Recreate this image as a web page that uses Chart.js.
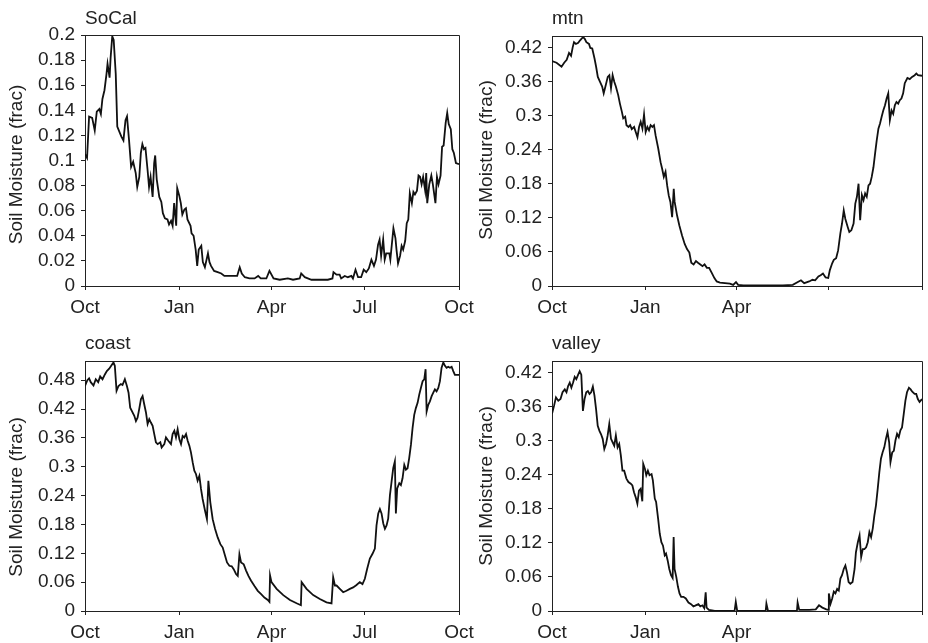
<!DOCTYPE html>
<html><head><meta charset="utf-8">
<script src="https://cdn.jsdelivr.net/npm/chart.js@4"></script>
<style>
html,body{margin:0;padding:0;background:#fff;}
#wrap{position:relative;width:928px;height:643px;overflow:hidden;background:#fff;}
canvas{position:absolute;left:0;top:0;}
</style></head><body>
<div id="wrap">
<canvas id="c1" width="928" height="643"></canvas>
<canvas id="c2" width="928" height="643"></canvas>
<canvas id="c3" width="928" height="643"></canvas>
<canvas id="c4" width="928" height="643"></canvas>
</div>
<script>
// ---- tick labels ----
const xTickDays = [0, 92, 182, 273, 365];
const xTickLabelsFull = ['Oct', 'Jan', 'Apr', 'Jul', 'Oct'];
const xTickLabelsPart = ['Oct', 'Jan', 'Apr', '', ''];
const yAxisTitle = 'Soil Moisture (frac)';
const socalYTicks = [0, 0.02, 0.04, 0.06, 0.08, 0.1, 0.12, 0.14, 0.16, 0.18, 0.2];
const mtnYTicks = [0, 0.06, 0.12, 0.18, 0.24, 0.3, 0.36, 0.42];
const coastYTicks = [0, 0.06, 0.12, 0.18, 0.24, 0.3, 0.36, 0.42, 0.48];
const valleyYTicks = [0, 0.06, 0.12, 0.18, 0.24, 0.3, 0.36, 0.42];

// ---- series (day since Oct 1, soil moisture fraction) ----
const socalDays = [0,2,4,7,9.5,11.5,14,15.5,17,19,21,22,24,25,26.6,28,30,31.5,34,35.5,37.5,39.5,41,43,45,47,49.5,51,53,54.5,56,57.5,59,61,62.5,64,66,67.5,68.5,70,72.5,74.5,76,78,80.5,82,84,85.5,87,89,90,92,93.5,95,97,98.5,100,103,104,106,108,109.5,111,113.5,115,117,120,121.5,123,126,129.5,133,136,139,142,146,148.5,151,153,156,160.5,165.5,169,171.5,177,180,184,190,198,203,209.5,211,214.5,221,229,237,241.5,242.5,245.5,248.5,250,253.5,256.5,260,261.5,264,266.5,269.5,272,274.5,277,279.5,282,284,286,287.5,289,291,292.5,294,297,298,301,303,304,305.5,307.5,309,310.5,312.5,314,315.5,317,319,320.5,322,324,325.5,327,328.5,330,332,333,334,336,338,339.5,342,343.5,345,347,348.5,350,352,353.5,355,357,358.5,360,362,365];
const socalVals = [0.105,0.102,0.135,0.134,0.124,0.139,0.141,0.137,0.149,0.156,0.169,0.177,0.166,0.182,0.199,0.196,0.169,0.127,0.122,0.119,0.116,0.132,0.135,0.116,0.095,0.099,0.090,0.079,0.087,0.106,0.113,0.109,0.110,0.093,0.079,0.087,0.071,0.098,0.104,0.085,0.071,0.067,0.058,0.054,0.053,0.049,0.052,0.048,0.066,0.048,0.078,0.072,0.066,0.057,0.061,0.062,0.053,0.048,0.042,0.040,0.029,0.016,0.029,0.032,0.019,0.015,0.026,0.019,0.016,0.012,0.011,0.010,0.008,0.008,0.008,0.008,0.008,0.015,0.010,0.007,0.006,0.006,0.008,0.006,0.006,0.012,0.006,0.005,0.006,0.005,0.006,0.010,0.007,0.005,0.005,0.005,0.006,0.011,0.009,0.009,0.006,0.008,0.007,0.008,0.006,0.013,0.007,0.007,0.013,0.011,0.014,0.021,0.016,0.021,0.033,0.037,0.024,0.037,0.021,0.026,0.026,0.021,0.046,0.038,0.029,0.018,0.024,0.032,0.029,0.036,0.050,0.053,0.074,0.066,0.075,0.073,0.076,0.088,0.087,0.081,0.087,0.076,0.090,0.066,0.081,0.088,0.081,0.066,0.087,0.081,0.088,0.111,0.112,0.130,0.138,0.129,0.125,0.109,0.106,0.098,0.097];

const mtnDays = [0,4.5,9.4,12,14.5,16.8,18.8,20.4,21.7,23.6,25.9,27.5,29,30.7,32.3,33.9,36.5,37.8,39.7,42,43.6,45.2,47.5,49.5,51,52.7,55,56.6,58.2,59.8,61.5,63,65.3,67,69,70.3,72.2,73.5,75.5,77.1,78.7,81,82.6,84.3,85.9,87.5,89.2,90.8,92.4,94.1,95.7,97.3,99,100.6,102.2,104.8,107.1,108.7,110.3,112,113.6,115.2,116.8,118.5,120.1,121,123.4,125.7,128.3,130.9,133.2,135.5,137.4,139.7,142,144,146.3,148.5,150.5,152.8,155,157.6,160.2,162.5,165.7,170.6,175.5,178.7,181.5,183.6,188.8,198.6,211.5,227.7,237.5,245.6,248.8,253.7,257,259.6,262.8,265,267.3,269.9,272.5,274.1,276.4,278,280.3,282.3,284.5,286.1,287.8,289.4,291.7,293.3,295.3,297.5,299.2,300.8,302.4,304,305.7,307.3,308.9,310.5,312.2,313.8,315.4,317.1,318.7,320.3,322,323.6,325.2,326.8,328.5,330.1,331.7,333.3,335,336.6,338.2,339.8,341.5,343.1,344.7,346.4,348,350.6,352.9,355.2,357.8,359.4,361,365];
const mtnVals = [0.396,0.393,0.386,0.393,0.398,0.410,0.405,0.420,0.429,0.426,0.428,0.432,0.435,0.438,0.435,0.429,0.426,0.419,0.418,0.400,0.385,0.368,0.359,0.351,0.339,0.351,0.368,0.371,0.348,0.371,0.359,0.351,0.336,0.321,0.306,0.295,0.298,0.283,0.280,0.283,0.276,0.280,0.271,0.262,0.280,0.289,0.277,0.302,0.271,0.280,0.274,0.283,0.280,0.283,0.265,0.242,0.218,0.206,0.192,0.201,0.177,0.159,0.148,0.121,0.171,0.148,0.124,0.106,0.089,0.074,0.065,0.059,0.041,0.038,0.044,0.041,0.038,0.035,0.038,0.032,0.032,0.023,0.014,0.008,0.006,0.005,0.004,0.002,0.007,0.002,0.001,0.001,0.001,0.001,0.002,0.010,0.005,0.008,0.011,0.010,0.017,0.019,0.022,0.015,0.014,0.028,0.040,0.046,0.049,0.063,0.093,0.110,0.133,0.118,0.104,0.095,0.098,0.110,0.145,0.157,0.180,0.116,0.160,0.151,0.163,0.157,0.177,0.180,0.192,0.209,0.233,0.256,0.277,0.286,0.298,0.309,0.318,0.330,0.339,0.292,0.309,0.303,0.318,0.324,0.321,0.327,0.330,0.339,0.357,0.366,0.364,0.368,0.371,0.374,0.371,0.370];

const coastDays = [0,2.3,4,5.6,8.3,10.5,12.9,14.8,17.1,19.4,21.3,23.6,25.9,27.8,29.1,30.8,32.7,35,36.6,38.9,40.9,42.5,44.1,46.4,48.1,49.7,51.3,52.9,54.6,56.2,57.8,59.5,61.1,62.7,64.3,66,67.6,69.2,70.9,73.5,74.8,77.4,79,81.3,83.9,85.5,87.2,88.8,90.4,92.1,93.7,95.3,96.9,98.6,100.2,101.8,103.4,105.1,106.7,108.3,109.9,111.6,113.2,114.8,117.1,119,120.4,122.3,124.6,126.9,129.5,132.1,134.4,136.7,138.6,140.9,143.2,145.1,147.4,149.1,150.7,152.3,154.9,157.2,159.5,162.1,165.4,168.6,171.9,175.1,178.4,180,180.6,182,187,193.5,200,206.5,210.7,211.4,216.2,222.7,229.2,235.7,240.6,242.2,243.9,245.5,248.7,252,255.2,258.5,261.7,265,268.2,270.8,273.1,275.4,278,280.6,282.9,284.5,286.2,287.8,289.4,291.1,292.7,294.3,295.9,297.6,299.2,300.8,302.4,303.4,304.7,306.7,308.3,309.9,311.6,313.2,314.8,316.4,318.1,319.7,321.3,322.9,324.6,326.2,327.8,329.5,331.1,332.4,333.4,335,336.6,338.3,339.9,341.5,343.1,344.8,346.4,348,349.7,351.3,352.9,354.5,356.2,357.8,359.4,361,365];
const coastVals = [0.468,0.480,0.484,0.476,0.469,0.482,0.476,0.488,0.482,0.492,0.499,0.504,0.511,0.517,0.510,0.458,0.468,0.472,0.470,0.482,0.468,0.454,0.423,0.413,0.406,0.395,0.402,0.420,0.441,0.447,0.430,0.413,0.389,0.399,0.392,0.385,0.368,0.351,0.347,0.351,0.340,0.347,0.361,0.354,0.347,0.368,0.375,0.361,0.378,0.357,0.347,0.364,0.361,0.368,0.354,0.344,0.330,0.309,0.292,0.285,0.271,0.281,0.254,0.233,0.209,0.191,0.271,0.226,0.191,0.171,0.153,0.139,0.132,0.115,0.101,0.094,0.093,0.087,0.077,0.073,0.118,0.101,0.097,0.084,0.073,0.063,0.052,0.042,0.035,0.028,0.023,0.019,0.074,0.060,0.046,0.033,0.023,0.016,0.012,0.060,0.046,0.033,0.025,0.018,0.016,0.070,0.053,0.053,0.046,0.039,0.042,0.046,0.049,0.054,0.060,0.056,0.067,0.088,0.109,0.119,0.130,0.178,0.203,0.212,0.203,0.182,0.171,0.178,0.192,0.241,0.269,0.297,0.311,0.203,0.255,0.266,0.262,0.276,0.304,0.294,0.297,0.318,0.346,0.381,0.408,0.422,0.433,0.450,0.464,0.478,0.482,0.503,0.415,0.429,0.436,0.447,0.454,0.461,0.457,0.464,0.478,0.506,0.517,0.510,0.506,0.508,0.506,0.508,0.499,0.491,0.491];

const valleyDays = [0,2,3.9,6.2,8.4,10.4,12.6,14.3,15.9,17.5,19.1,20.8,22.4,24,25.6,27.3,28.9,30.5,32.1,33.8,35.4,37,38.6,40.3,41.9,43.5,45.1,46.8,48.4,50,51.6,53.3,54.9,56.5,58.2,59.8,61.4,63,64.7,66.3,67.9,69.5,71.2,73.4,75.4,77.7,79.3,80.9,82.6,84.2,85.8,87.4,89.1,90,91.7,93,94.6,96.2,98.2,99.5,101.4,102.7,104.7,106.3,107.9,109.5,111.2,112.5,114.1,115.7,117.4,119,120,120.9,122.6,124.2,125.8,127.4,129.7,132,134.6,137.2,139.5,141.8,144.4,146.3,148.3,150.2,151.6,152.5,154.8,160.6,170.4,180.1,181.3,182.7,198.6,210.8,211.5,213.1,227.7,241.6,242.3,243.9,253.7,260.2,263.4,266.7,270.6,272.5,273.1,274.8,276.4,278,279.6,281.3,282.9,284.5,286.1,287.8,289.4,291,292.6,294.3,296.5,298.5,299.8,301.7,303.4,305,306.6,308.2,309.9,311.5,313.1,314.8,316.4,318,319.6,321.3,322.9,324.5,326.1,327.8,329.4,331,332.6,333.9,335.6,337.2,338.8,340.4,342.1,343.7,345.3,347,348.6,350.2,352.1,353.8,355.4,357.7,359.3,360.9,362.6,365];
const valleyVals = [0.347,0.361,0.376,0.370,0.373,0.385,0.390,0.385,0.396,0.402,0.393,0.402,0.412,0.408,0.415,0.422,0.416,0.352,0.373,0.385,0.387,0.382,0.385,0.395,0.379,0.355,0.326,0.317,0.311,0.303,0.285,0.294,0.309,0.329,0.303,0.297,0.291,0.309,0.288,0.294,0.274,0.247,0.247,0.233,0.227,0.224,0.221,0.209,0.200,0.189,0.212,0.215,0.193,0.259,0.250,0.239,0.247,0.239,0.241,0.230,0.198,0.192,0.162,0.136,0.121,0.115,0.098,0.101,0.089,0.074,0.063,0.058,0.130,0.074,0.060,0.043,0.031,0.025,0.025,0.022,0.015,0.012,0.008,0.010,0.012,0.008,0.010,0.005,0.033,0.006,0.002,0,0,0,0.016,0,0,0,0.013,0,0,0,0.015,0.002,0.002,0.003,0.010,0.006,0.003,0.002,0.031,0.013,0.022,0.034,0.031,0.039,0.036,0.057,0.063,0.074,0.080,0.068,0.051,0.048,0.051,0.074,0.103,0.121,0.133,0.095,0.109,0.109,0.112,0.121,0.139,0.130,0.145,0.168,0.186,0.215,0.244,0.268,0.279,0.288,0.303,0.315,0.297,0.262,0.279,0.282,0.300,0.312,0.306,0.318,0.323,0.347,0.370,0.385,0.393,0.390,0.386,0.382,0.382,0.373,0.368,0.373];

// ---- rendering ----
Chart.defaults.font.family = '"Liberation Sans", Arial, Helvetica, sans-serif';
Chart.defaults.font.size = 19;
Chart.defaults.color = '#222';

const INK = '#222';
const framePlugin = {
  id: 'frame',
  afterDraw(chart) {
    const {ctx, chartArea: {left, top, right, bottom}} = chart;
    const a = p => Math.round(p - 0.5) + 0.5;
    ctx.save();
    ctx.strokeStyle = INK; ctx.lineWidth = 1;
    ctx.beginPath();
    ctx.moveTo(a(left), a(top)); ctx.lineTo(a(right), a(top)); ctx.lineTo(a(right), a(bottom));
    ctx.stroke();
    ctx.restore();
  }
};

function makePanel(p) {
  new Chart(document.getElementById(p.id), {
    type: 'line',
    data: { datasets: [{ data: p.days.map((d, i) => ({x: d, y: p.vals[i]})),
      borderColor: '#111', borderWidth: 1.8, pointRadius: 0, tension: 0, fill: false }] },
    options: {
      responsive: false, animation: false, devicePixelRatio: 1, events: [],
      layout: { padding: p.pad },
      plugins: {
        legend: { display: false }, tooltip: { enabled: false },
        title: { display: true, text: p.title, align: 'start', fullSize: false, color: INK,
                 font: { size: 19, weight: 'normal' }, padding: { top: 0, bottom: p.titleGap } }
      },
      scales: {
        x: { type: 'linear', min: 0, max: 365,
             afterBuildTicks: s => { s.ticks = xTickDays.map(v => ({value: v})); },
             afterFit: s => { s.height = 32; },
             ticks: { autoSkip: false, maxRotation: 0, minRotation: 0, padding: 6, color: INK,
                      callback: v => p.xLabels[xTickDays.indexOf(v)] },
             grid: { drawOnChartArea: false, drawTicks: true, tickLength: 4, tickColor: INK },
             border: { display: true, color: INK, width: 1 } },
        y: { type: 'linear', min: 0, max: p.yMax,
             afterBuildTicks: s => { s.ticks = p.yTicks.map(v => ({value: v})); },
             afterFit: s => {
               s.width = p.yWidth;
               // nudge the axis title along the axis, as in the reference
               if (!s._shifted) {
                 s._shifted = true;
                 const base = Object.getPrototypeOf(s).drawTitle;
                 s.drawTitle = function () {
                   this.ctx.save(); this.ctx.translate(0, p.yTitleShift);
                   base.call(this);
                   this.ctx.restore();
                 };
               }
             },
             ticks: { autoSkip: false, padding: 6, color: INK, callback: v => String(+v.toFixed(2)) },
             grid: { drawOnChartArea: false, drawTicks: true, tickLength: 4, tickColor: INK },
             border: { display: true, color: INK, width: 1 },
             title: { display: true, text: yAxisTitle, color: INK, font: { size: 19 }, padding: { top: 5, bottom: 0 } } }
      }
    },
    plugins: [framePlugin]
  });
}

makePanel({ id: 'c1', title: 'SoCal', days: socalDays, vals: socalVals, yMax: 0.2, yTicks: socalYTicks,
  xLabels: xTickLabelsFull, yWidth: 85, titleGap: 5.2, yTitleShift: 4,
  pad: { left: 0, top: 7, right: 469, bottom: 325 } });
makePanel({ id: 'c2', title: 'mtn', days: mtnDays, vals: mtnVals, yMax: 0.44, yTicks: mtnYTicks,
  xLabels: xTickLabelsPart, yWidth: 82, titleGap: 6.2, yTitleShift: -1,
  pad: { left: 470, top: 7, right: 1, bottom: 325 } });
makePanel({ id: 'c3', title: 'coast', days: coastDays, vals: coastVals, yMax: 0.52, yTicks: coastYTicks,
  xLabels: xTickLabelsFull, yWidth: 85, titleGap: 6.2, yTitleShift: 11,
  pad: { left: 0, top: 332, right: 469, bottom: 0 } });
makePanel({ id: 'c4', title: 'valley', days: valleyDays, vals: valleyVals, yMax: 0.44, yTicks: valleyYTicks,
  xLabels: xTickLabelsPart, yWidth: 82, titleGap: 6.2, yTitleShift: 0,
  pad: { left: 470, top: 332, right: 1, bottom: 0 } });
</script>
</body></html>
